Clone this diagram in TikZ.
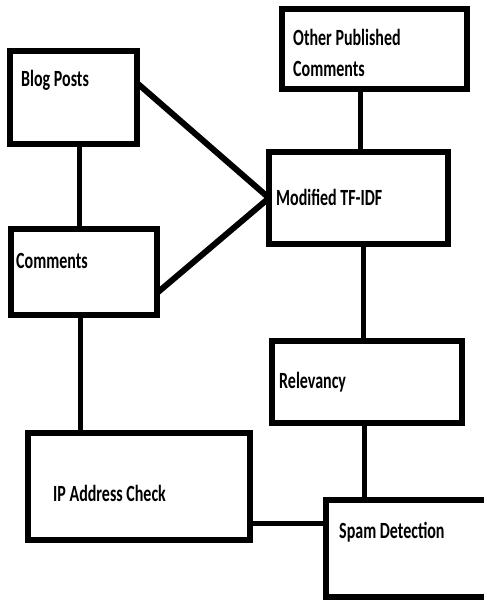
\documentclass[tikz,border=0pt]{standalone}
\usepackage{fontspec}
\setmainfont{Carlito}
\usepackage{graphicx}
\usetikzlibrary{positioning}
\newcommand{\tall}[1]{\scalebox{1}[1.45]{#1}}

\begin{document}
\begin{tikzpicture}[
            x = 1pt, y = -1pt, % image-like coordinates
            box/.style = {draw, line width = 6pt, inner sep = 0pt, outer sep = 0pt},
            lbl/.style = {anchor = west, inner sep = 0pt, align = left,
                          font = \bfseries\fontsize{16}{31}\selectfont},
            link/.style = {line width = 5pt}
        ]
        \useasboundingbox (0,0) rectangle (483,600);

        % left column
        \node[box, minimum width=127pt, minimum height=93pt] (blog) at (73.5,97.5) {};
        \node[box, minimum width=146pt, minimum height=86pt] (comments) at (84,272) {};
        \node[box, minimum width=222pt, minimum height=107pt] (ip) at (139,486.5) {};

        % right column
        \node[box, minimum width=185pt, minimum height=80pt] (other) at (374.5,49) {};
        \node[box, minimum width=179pt, minimum height=92pt] (tfidf) at (358.5,198) {};
        \node[box, minimum width=190pt, minimum height=82pt] (relevancy) at (367,382) {};
        \node[box, minimum width=166pt, minimum height=97pt] (spam) at (409,548.5) {};

        % labels
        \node[lbl] (blogtxt) at (21,80) {\tall{Blog Posts}};
        \node[lbl] (commentstxt) at (16,261) {\tall{Comments}};
        \node[lbl] (iptxt) at (53,493) {\tall{IP Address Check}};
        \node[lbl] (othertxt) at (293,52.5) {\tall{Other Published}\\\tall{Comments}};
        \node[lbl] (tfidftxt) at (276,197) {\tall{Modified TF-IDF}};
        \node[lbl] (relevancytxt) at (279,382) {\tall{Relevancy}};
        \node[lbl] (spamtxt) at (339,532) {\tall{Spam Detection}};

        % links
        \draw[link] ([xshift=5.5pt]blog.south) -- ([xshift=5.5pt]blog.south |- comments.north);
        \draw[link] ([xshift=-4pt]comments.south) -- ([xshift=-4pt]comments.south |- ip.north);
        \draw[link, line width=6pt] ([yshift=-32pt]blog.north east) -- (tfidf.west);
        \draw[link, line width=6pt] ([yshift=22pt]comments.south east) -- (tfidf.west);
        \draw[link] ([xshift=-14.5pt]other.south) -- ([xshift=-14.5pt]other.south |- tfidf.north);
        \draw[link] ([xshift=4.5pt]tfidf.south) -- ([xshift=4.5pt]tfidf.south |- relevancy.north);
        \draw[link] ([xshift=-3pt]relevancy.south) -- ([xshift=-3pt]relevancy.south |- spam.north);
        \draw[link] ([yshift=-36.5pt]ip.east) -- ([yshift=-36.5pt]ip.east -| spam.west);

\end{tikzpicture}
\end{document}
